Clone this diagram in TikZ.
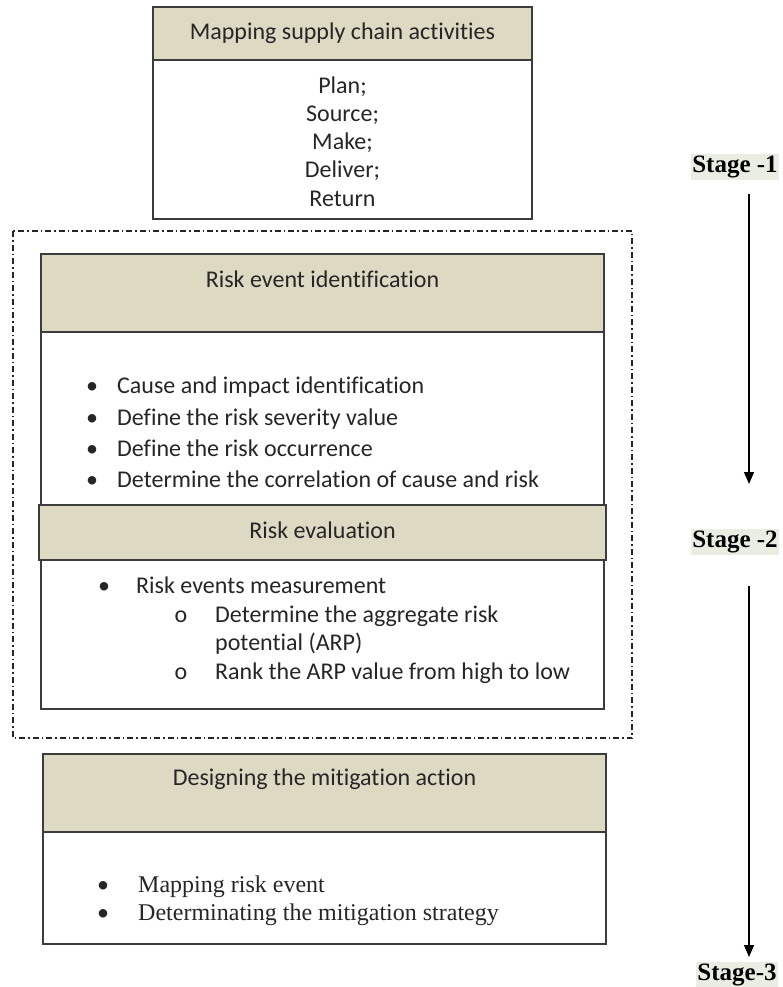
\documentclass[tikz,border=0pt]{standalone}
\usepackage{fontspec}
\setmainfont[Ligatures=NoCommon]{Carlito}
\newfontfamily\timesf{Liberation Serif}
\usetikzlibrary{arrows.meta}
\definecolor{hdr}{RGB}{221,217,195}
\definecolor{stagebg}{RGB}{234,238,226}
\definecolor{edge}{RGB}{60,60,60}
\begin{document}
\begin{tikzpicture}[x=1pt,y=-1pt,
  boxw/.style={draw=edge,line width=1.6pt,fill=white},
  boxh/.style={draw=edge,line width=1.6pt,fill=hdr},
  txt/.style={font=\fontsize{24}{28}\selectfont,inner sep=0pt,text=black!85},
  ttxt/.style={font=\timesf\fontsize{24}{28}\selectfont,inner sep=0pt,text=black!85},
  stagelbl/.style={font=\timesf\bfseries\fontsize{25}{29}\selectfont,fill=stagebg,inner sep=1.5pt},
  stagearrow/.style={line width=1.3pt,-{Triangle[width=10pt,length=12pt]}},
  dashbox/.style={draw=black!85,line width=1.4pt,dash pattern=on 6pt off 3pt on 1.5pt off 3pt}
]
\useasboundingbox (0,0) rectangle (782,987);

% top box
\draw[boxw] (153,60) rectangle (532,219);
\draw[boxh] (153,7) rectangle (532,60);
\node[txt] (t1) at (342.5,33) {Mapping supply chain activities};
\node[txt] (p1) at (342.5,87) {Plan;};
\node[txt] (p2) at (342.5,115) {Source;};
\node[txt] (p3) at (342.5,143) {Make;};
\node[txt] (p4) at (342.5,171) {Deliver;};
\node[txt] (p5) at (342.5,199) {Return};

% dash-dot frame
\draw[dashbox] (13,231) rectangle (632,738);

% risk event identification
\draw[boxw] (41,332) rectangle (604,505);
\draw[boxh] (41,254) rectangle (604,332);
\node[txt] (t2) at (322.5,279) {Risk event identification};
\foreach \y/\s [count=\i] in {391/Cause and impact identification,423/Define the risk severity value,454/Define the risk occurrence,485/Determine the correlation of cause and risk}{
  \node[txt,anchor=mid] (b\i) at (92,\y) {\textbullet};
  \node[txt,anchor=mid west] (c\i) at (117,\y) {\s};
}

% risk evaluation
\draw[boxw] (41,560) rectangle (604,709);
\draw[boxh] (39,505) rectangle (606,560);
\node[txt] (t3) at (322.5,530) {Risk evaluation};
\node[txt,anchor=mid] (e0) at (104,591) {\textbullet};
\node[txt,anchor=mid west] (f0) at (136,591) {Risk events measurement};
\node[txt,anchor=mid] (e1) at (181,620) {o};
\node[txt,anchor=mid west] (f1) at (215,620) {Determine the aggregate risk};
\node[txt,anchor=mid west] (f2) at (215,648) {potential (ARP)};
\node[txt,anchor=mid] (e3) at (181,677) {o};
\node[txt,anchor=mid west] (f3) at (215,677) {Rank the ARP value from high to low};

% mitigation
\draw[boxw] (43,832) rectangle (606,944);
\draw[boxh] (43,754) rectangle (606,832);
\node[txt] (t4) at (324.5,779) {Designing the mitigation action};
\node[txt,anchor=mid] (m1b) at (103,890) {\textbullet};
\node[ttxt,anchor=mid west] (m1) at (138,890) {Mapping risk event};
\node[txt,anchor=mid] (m2b) at (103,918) {\textbullet};
\node[ttxt,anchor=mid west] (m2) at (138,918) {Determinating the mitigation strategy};

% stages
\node[stagelbl] (s1) at (735,167) {Stage -1};
\node[stagelbl] (s2) at (735,542) {Stage -2};
\node[stagelbl] (s3) at (737,975) {Stage-3};
\coordinate (a1s) at (749,194);
\coordinate (a1e) at (749,484);
\coordinate (a2s) at (749,586);
\coordinate (a2e) at (749,957);
\draw[stagearrow] (a1s) -- (a1e);
\draw[stagearrow] (a2s) -- (a2e);
\end{tikzpicture}
\end{document}
